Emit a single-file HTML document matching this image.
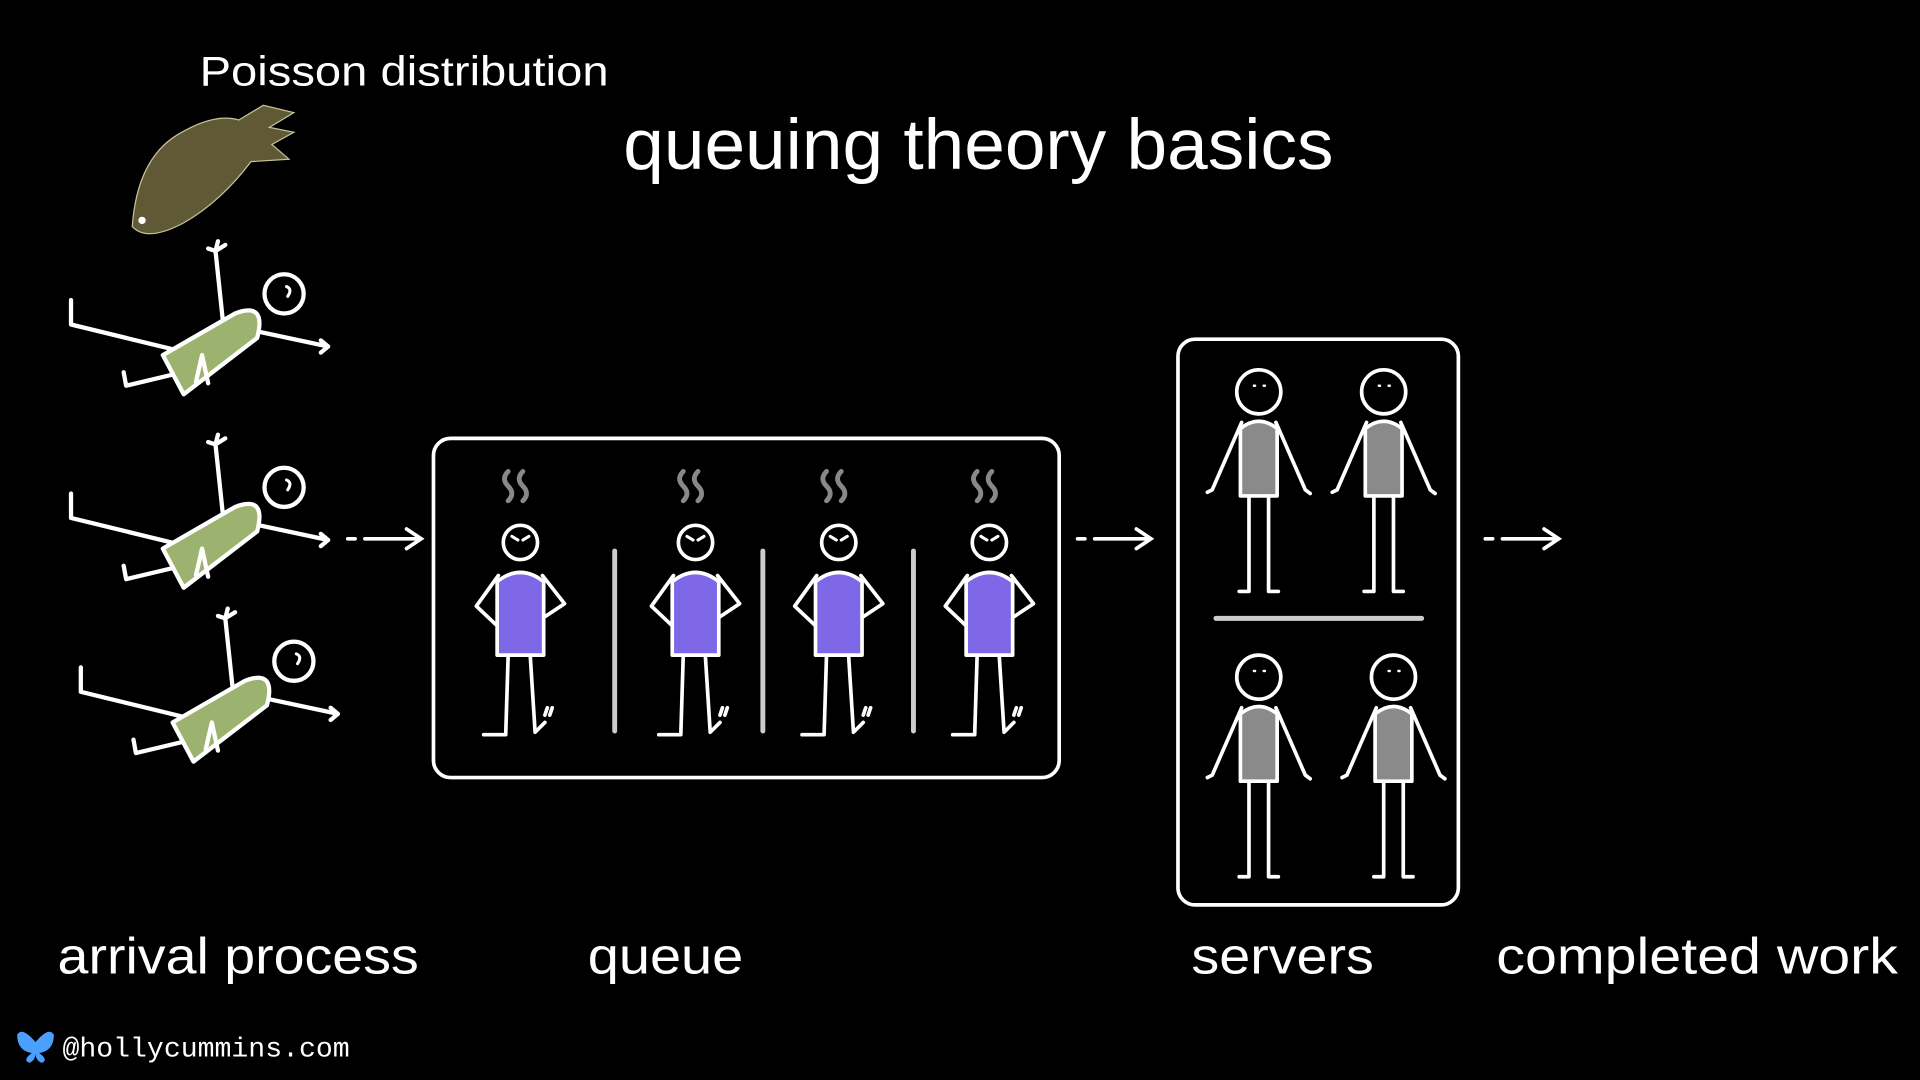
<!DOCTYPE html>
<html><head><meta charset="utf-8"><style>
html,body{margin:0;padding:0;background:#000;width:1920px;height:1080px;overflow:hidden}
svg{display:block}
text{font-family:"Liberation Sans",sans-serif;fill:#fff}
</style></head><body>
<svg width="1920" height="1080" viewBox="0 0 1568 882" xmlns="http://www.w3.org/2000/svg">
<defs>
<g id="lie" stroke="#fff" stroke-width="3.5" fill="none" stroke-linecap="round" stroke-linejoin="round">
  <path d="M182 262 L176 205 M170 203 L176 205 L184 200 M176 205 L178 197"/>
  <path d="M207 270 L268 283 M262 278 L268 283 L262 288"/>
  <path d="M140 285 L58 265 L58 245"/>
  <path d="M145 305 L103 315 L101 304"/>
  <path d="M133 290 L192 256 Q218 246 210 276 L150 322 Z" fill="#9bb36e"/>
  <path d="M160 312 L165 290 L170 313"/>
  <circle cx="232" cy="240" r="16"/>
  <path d="M234 234 q5 2 1 8" stroke-width="2.5"/>
</g>
<g id="q" stroke="#fff" stroke-width="3" fill="none" stroke-linecap="round" stroke-linejoin="round">
  <path d="M-10 385 q-6 6 0 12 q6 6 0 12 M2 385 q-6 6 0 12 q6 6 0 12" stroke="#888" stroke-width="4"/>
  <circle cx="0" cy="443" r="14"/>
  <path d="M-7 438 l5 3 M7 438 l-5 3" stroke-width="2.5"/>
  <path d="M-18 470 L-36 495 L-18 512 L-8 510 M18 470 L36 493 L18 505 L8 506"/>
  <path d="M-19 535 L-19 475 Q0 460 19 475 L19 535 Z" fill="#7e68e8"/>
  <path d="M-10 535 L-12 600 L-30 600 M8 535 L12 598 L20 590 M22 578 l-2 6 M26 578 l-2 6" />
</g>
<g id="s" stroke="#fff" stroke-width="3" fill="none" stroke-linecap="round" stroke-linejoin="round">
  <circle cx="0" cy="320" r="18"/>
  <path d="M-4 315 h1 M4 315 h1" stroke-width="2"/>
  <path d="M-14 345 L-38 400 M-38 400 l-4 2 M14 345 L38 400 M38 400 l4 3"/>
  <path d="M-15 405 L-15 350 Q0 338 15 350 L15 405 Z" fill="#8a8a8a"/>
  <path d="M-8 405 L-8 483 M8 405 L8 483 M-8 483 l-8 0 M8 483 l8 0"/>
</g>
<g id="arr" stroke="#fff" stroke-width="3" fill="none" stroke-linecap="round">
  <path d="M0 0 h6 M14 0 h44 M48 -8 L60 0 L48 8"/>
</g>
</defs>
<text x="163" y="70" font-size="34" textLength="334" lengthAdjust="spacingAndGlyphs">Poisson distribution</text>
<text x="509" y="138" font-size="58" textLength="580" lengthAdjust="spacingAndGlyphs">queuing theory basics</text>
<path d="M108 185 Q112 130 145 110 Q175 92 195 98 L215 86 L240 92 L220 104 L240 108 L222 118 L236 130 L205 132 Q180 165 150 182 Q120 198 108 185 Z" fill="#5f5a35" stroke="#c9c299" stroke-width="1"/>
<circle cx="116" cy="180" r="3" fill="#fff"/>
<use href="#lie"/>
<use href="#lie" transform="translate(0,158)"/>
<use href="#lie" transform="translate(8,300)"/>
<use href="#arr" transform="translate(284,440)"/>
<use href="#arr" transform="translate(880,440)"/>
<use href="#arr" transform="translate(1213,440)"/>
<rect x="354" y="358" width="511" height="277" rx="14" fill="none" stroke="#fff" stroke-width="3"/>
<g stroke="#ccc" stroke-width="4" stroke-linecap="round">
<line x1="502" y1="450" x2="502" y2="597"/><line x1="623" y1="450" x2="623" y2="597"/><line x1="746" y1="450" x2="746" y2="597"/>
</g>
<use href="#q" transform="translate(425,0)"/>
<use href="#q" transform="translate(568,0)"/>
<use href="#q" transform="translate(685,0)"/>
<use href="#q" transform="translate(808,0)"/>
<rect x="962" y="277" width="229" height="462" rx="14" fill="none" stroke="#fff" stroke-width="3"/>
<line x1="993" y1="505" x2="1161" y2="505" stroke="#ccc" stroke-width="4" stroke-linecap="round"/>
<use href="#s" transform="translate(1028,0)"/>
<use href="#s" transform="translate(1130,0)"/>
<use href="#s" transform="translate(1028,233)"/>
<use href="#s" transform="translate(1138,233)"/>
<text x="47" y="795" font-size="42" textLength="295" lengthAdjust="spacingAndGlyphs">arrival process</text>
<text x="480" y="795" font-size="42" textLength="127" lengthAdjust="spacingAndGlyphs">queue</text>
<text x="973" y="795" font-size="42" textLength="149" lengthAdjust="spacingAndGlyphs">servers</text>
<text x="1222" y="795" font-size="42" textLength="328" lengthAdjust="spacingAndGlyphs">completed work</text>
<path d="M29 851 Q18 838 14 845 Q14 858 26 860 Q18 866 24 868 Q29 866 29 860 Q29 866 34 868 Q40 866 32 860 Q44 858 44 845 Q40 838 29 851 Z" fill="#4a9fff"/>
<text x="51" y="863" font-size="23" style="font-family:'Liberation Mono',monospace">@hollycummins.com</text>
</svg>
</body></html>
